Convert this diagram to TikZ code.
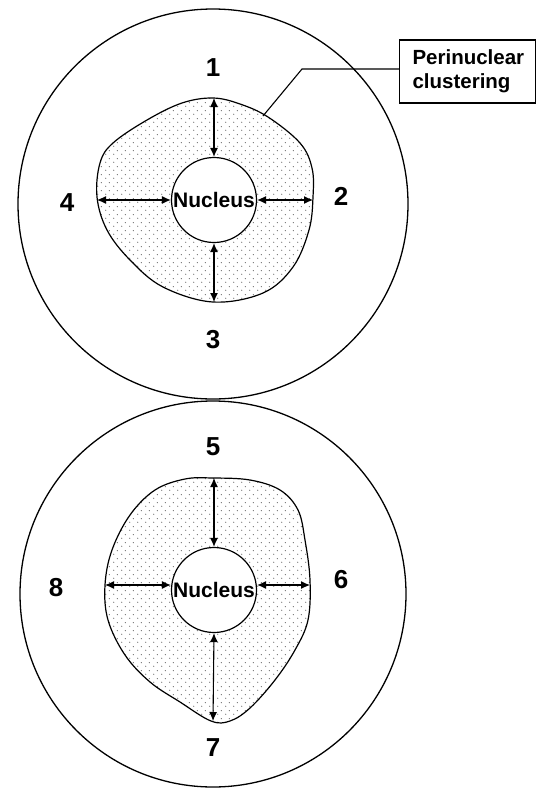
\documentclass[tikz,border=0pt]{standalone}
\usepackage{fontspec}
\setmainfont{Liberation Sans}
\usetikzlibrary{arrows.meta, positioning, patterns.meta}

\tikzdeclarepattern{
  name=cytodots,
  type=uncolored,
  bounding box={(0,0) and (8pt,8pt)},
  tile size={(8pt,8pt)},
  code={\fill (2pt,2pt) circle (0.7pt); \fill (6pt,6pt) circle (0.7pt);}
}

\begin{document}
\begin{tikzpicture}[x=1pt, y=-1pt,
    cell/.style={draw, line width=1.3pt},
    cyto/.style={draw, line width=1.2pt, pattern=cytodots, pattern color=black!55},
    nuc/.style={circle, draw, line width=1.2pt, fill=white, minimum size=85pt, inner sep=0pt, font=\fontsize{21}{24}\bfseries},
    num/.style={font=\fontsize{26}{28}\bfseries},
    gap/.style={{Latex[length=9pt,width=8pt]}-{Latex[length=9pt,width=8pt]}, line width=1.1pt},
    lbl/.style={draw, line width=1.1pt, minimum height=63pt, text width=110pt, inner xsep=13pt, align=left, font=\fontsize{20.5}{24}\bfseries}
]
    \useasboundingbox (0,0) rectangle (536,788);

    % upper cell
    \draw[cell] (213,204) circle (195);
    \draw[cyto] plot[smooth cycle, tension=0.6] coordinates {
        (213,98) (240,104) (268,117) (300,143) (312,168) (313,197) (309,230)
        (293,267) (263,293) (213,302) (163,287) (130,260) (107,230) (97,197)
        (100,163) (113,143) (147,120) (182,103)};
    \node[nuc] (n1) at (214,200) {Nucleus};
    \coordinate (t1) at (214,98);
    \coordinate (r1) at (313,200);
    \coordinate (b1) at (214,302);
    \coordinate (l1) at (97,200);
    \draw[gap] (t1) -- (n1.north);
    \draw[gap] (n1.east) -- (r1);
    \draw[gap] (n1.south) -- (b1);
    \draw[gap] (l1) -- (n1.west);
    \node[num] (d1) at (213,68)  {1};
    \node[num] (d2) at (341,196) {2};
    \node[num] (d3) at (213,340) {3};
    \node[num] (d4) at (67,203)  {4};

    % label
    \node[lbl, anchor=west] (pc) at (399,71.5) {Perinuclear\\clustering};
    \coordinate (p0) at (263,116);
    \coordinate (p1) at (302,69);
    \draw[line width=1.1pt] (p0) -- (p1) -- (p1 -| pc.west);

    % lower cell
    \draw[cell] (213,594) circle (193);
    \draw[cyto] plot[smooth cycle, tension=0.6] coordinates {
        (213,478) (250,480) (280,490) (298,510) (305,540) (310,580) (308,620)
        (295,650) (275,680) (250,708) (230,721) (211,721) (180,702) (150,682)
        (125,655) (108,620) (105,585) (112,550) (130,515) (155,490) (185,479)};
    \node[nuc] (n2) at (214,590) {Nucleus};
    \coordinate (t2) at (214,478);
    \coordinate (r2) at (310,585);
    \coordinate (b2) at (213,721);
    \coordinate (l2) at (105,585);
    \draw[gap] (t2) -- (n2.north);
    \draw[gap] (n2.east |- r2) -- (r2);
    \draw[gap] (n2.south) -- (b2);
    \draw[gap] (l2) -- (n2.west |- l2);
    \node[num] (d5) at (213,447) {5};
    \node[num] (d6) at (341,580) {6};
    \node[num] (d7) at (213,748) {7};
    \node[num] (d8) at (56,588)  {8};
\end{tikzpicture}
\end{document}
